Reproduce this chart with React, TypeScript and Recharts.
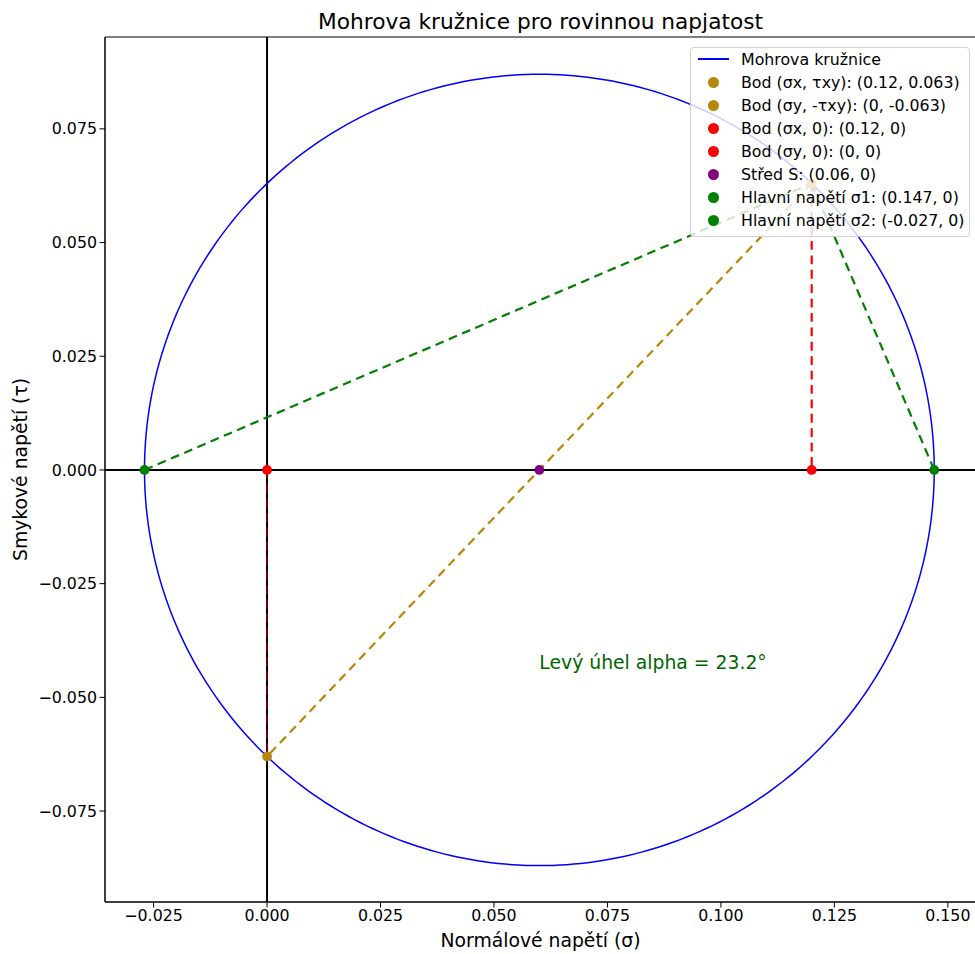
import { ScatterChart, Scatter, XAxis, YAxis, ReferenceLine, ReferenceArea, Legend } from "recharts";

// stress state
const SIGMA_X = 0.12;
const SIGMA_Y = 0;
const TAU_XY = 0.063;

const CENTER_X = (SIGMA_X + SIGMA_Y) / 2;
const RADIUS = Math.sqrt(((SIGMA_X - SIGMA_Y) / 2) ** 2 + TAU_XY ** 2);

const POINT_LABELS = [
  "Bod (σx, τxy): (0.12, 0.063)",
  "Bod (σy, -τxy): (0, -0.063)",
  "Bod (σx, 0): (0.12, 0)",
  "Bod (σy, 0): (0, 0)",
  "Střed S: (0.06, 0)",
  "Hlavní napětí σ1: (0.147, 0)",
  "Hlavní napětí σ2: (-0.027, 0)",
];
const POINT_X = [0.12, 0, 0.12, 0, 0.06, 0.147, -0.027];
const POINT_Y = [0.063, -0.063, 0, 0, 0, 0, 0];
const POINT_COLORS = ["#b8860b", "#b8860b", "#ff0000", "#ff0000", "#800080", "#008000", "#008000"];

// dashed construction lines: [from point index, to point index]
const SEGMENTS = [
  [3, 1],
  [6, 0],
  [0, 5],
  [0, 1],
  [0, 2],
];
const SEGMENT_COLORS = ["#ff0000", "#008000", "#008000", "#b8860b", "#ff0000"];
const SEGMENT_WIDTHS = [0.8, 2.2, 2.2, 2.2, 2.2];

const X_TICKS = [-0.025, 0, 0.025, 0.05, 0.075, 0.1, 0.125, 0.15];
const Y_TICKS = [-0.075, -0.05, -0.025, 0, 0.025, 0.05, 0.075];
const X_DOMAIN = [-0.0357, 0.1562];
const Y_DOMAIN = [-0.095, 0.0952];

const ANGLE_TEXT = "Levý úhel alpha = 23.2°";
const ANGLE_POS = { x: 0.06, y: -0.0438 };

const FONT = "'DejaVu Sans', sans-serif";
const TICK_FS = 15.8;
const LABEL_FS = 18.8;

const circleData = Array.from({ length: 361 }, (_, i) => {
  const t = (i / 360) * 2 * Math.PI;
  return { x: CENTER_X + RADIUS * Math.cos(t), y: RADIUS * Math.sin(t) };
});

const fmt = (v: number) => {
  if (Math.abs(v) < 1e-12) return "0.000";
  return v < 0 ? "\u2212" + Math.abs(v).toFixed(3) : v.toFixed(3);
};

const Nothing = () => <g />;

function LegendBox() {
  return (
    <div
      style={{
        fontFamily: FONT,
        fontSize: TICK_FS,
        color: "#000",
        background: "rgba(255,255,255,0.8)",
        border: "1px solid #d0d0d0",
        borderRadius: 4,
        paddingBottom: 4,
        boxSizing: "border-box",
        width: 280,
      }}
    >
      <div style={{ position: "relative", height: 23, lineHeight: "23px", whiteSpace: "nowrap" }}>
        <div style={{ position: "absolute", left: 7, top: 10, width: 31, height: 1.6, background: "#0000ff" }} />
        <span style={{ position: "absolute", left: 50 }}>Mohrova kružnice</span>
      </div>
      {POINT_LABELS.map((lab, i) => (
        <div key={lab} style={{ position: "relative", height: 23, lineHeight: "23px", whiteSpace: "nowrap" }}>
          <div
            style={{
              position: "absolute",
              left: 17,
              top: 6,
              width: 11,
              height: 11,
              borderRadius: 6,
              background: POINT_COLORS[i],
            }}
          />
          <span style={{ position: "absolute", left: 50 }}>{lab}</span>
        </div>
      ))}
    </div>
  );
}

export default function App() {
  return (
    <div style={{ position: "relative", width: 975, height: 954, overflow: "hidden", background: "#fff" }}>
      <style>{"body{margin:0}"}</style>
      <div
        style={{
          position: "absolute",
          left: 105,
          width: 871,
          top: 9,
          textAlign: "center",
          fontFamily: FONT,
          fontSize: 21.7,
          lineHeight: "26px",
          color: "#000",
        }}
      >
        Mohrova kružnice pro rovinnou napjatost
      </div>
      <ScatterChart width={977} height={954} margin={{ top: 37, right: 1, bottom: 0, left: 0 }}>
        <XAxis
          type="number"
          dataKey="x"
          domain={X_DOMAIN}
          ticks={X_TICKS}
          tickFormatter={fmt}
          allowDataOverflow
          height={52}
          tickSize={5.5}
          tickMargin={2}
          stroke="#000"
          tick={{ fill: "#000", fontSize: TICK_FS, fontFamily: FONT }}
          label={{
            value: "Normálové napětí (σ)",
            position: "insideBottom",
            offset: 7,
            fill: "#000",
            fontSize: LABEL_FS,
            fontFamily: FONT,
          }}
        />
        <YAxis
          type="number"
          dataKey="y"
          domain={Y_DOMAIN}
          ticks={Y_TICKS}
          tickFormatter={fmt}
          allowDataOverflow
          width={105}
          tickSize={5.5}
          tickMargin={2.5}
          stroke="#000"
          tick={{ fill: "#000", fontSize: TICK_FS, fontFamily: FONT }}
          label={{
            value: "Smykové napětí (τ)",
            position: "insideLeft",
            angle: -90,
            offset: 20,
            fill: "#000",
            fontSize: LABEL_FS,
            fontFamily: FONT,
            style: { textAnchor: "middle" },
          }}
        />
        <ReferenceArea
          x1={X_DOMAIN[0]}
          x2={X_DOMAIN[1]}
          y1={Y_DOMAIN[0]}
          y2={Y_DOMAIN[1]}
          fill="none"
          stroke="#000"
          strokeWidth={1}
          ifOverflow="visible"
        />
        <Scatter
          data={circleData}
          fill="#0000ff"
          line={{ stroke: "#0000ff", strokeWidth: 1.5 }}
          lineType="joint"
          shape={Nothing}
          isAnimationActive={false}
        />
        {SEGMENTS.map(([a, b], i) => (
          <Scatter
            key={"seg" + i}
            data={[
              { x: POINT_X[a], y: POINT_Y[a] },
              { x: POINT_X[b], y: POINT_Y[b] },
            ]}
            fill={SEGMENT_COLORS[i]}
            line={{ stroke: SEGMENT_COLORS[i], strokeWidth: SEGMENT_WIDTHS[i], strokeDasharray: "8.8 5.6" }}
            lineType="joint"
            shape={Nothing}
            isAnimationActive={false}
          />
        ))}
        <ReferenceLine x={0} stroke="#000" strokeWidth={2} />
        <ReferenceLine y={0} stroke="#000" strokeWidth={2} />
        {POINT_LABELS.map((lab, i) => (
          <Scatter
            key={lab}
            name={lab}
            data={[{ x: POINT_X[i], y: POINT_Y[i] }]}
            fill={POINT_COLORS[i]}
            shape={(p: any) => <circle cx={p.cx} cy={p.cy} r={4.9} fill={POINT_COLORS[i]} />}
            isAnimationActive={false}
          />
        ))}
        <Scatter
          data={[ANGLE_POS]}
          fill="#006400"
          shape={(p: any) => (
            <text x={p.cx} y={p.cy} fill="#006400" fontSize={LABEL_FS} fontFamily={FONT}>
              {ANGLE_TEXT}
            </text>
          )}
          isAnimationActive={false}
        />
        <Legend
          layout="vertical"
          align="center"
          verticalAlign="middle"
          content={() => <LegendBox />}
          wrapperStyle={{ position: "absolute", top: 47, left: 690, width: 280 }}
        />
      </ScatterChart>
    </div>
  );
}
